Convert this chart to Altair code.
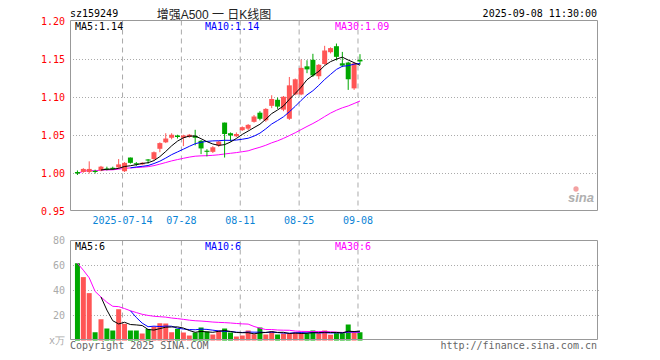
import altair as alt
import pandas as pd

# ---- data (49 trading days from 2025-07-02) ----
opens = [1.002, 1.002, 1.002, 1.0035, 1.004, 1.0065, 1.0075, 1.008, 1.003, 1.021,
         1.0135, 1.012, 1.0185, 1.019, 1.0325, 1.041, 1.047, 1.050, 1.047, 1.048,
         1.0495, 1.043, 1.030, 1.0285, 1.037, 1.067, 1.053, 1.049, 1.057, 1.059,
         1.068, 1.080, 1.070, 1.089, 1.097, 1.084, 1.072, 1.104, 1.104, 1.141,
         1.1496, 1.128, 1.144, 1.1596, 1.1675, 1.145, 1.146, 1.112, 1.1495]
highs = [1.004, 1.007, 1.016, 1.005, 1.010, 1.009, 1.009, 1.019, 1.015, 1.021,
         1.015, 1.015, 1.019, 1.029, 1.041, 1.053, 1.053, 1.051, 1.051, 1.052,
         1.0575, 1.044, 1.032, 1.036, 1.043, 1.067, 1.054, 1.054, 1.062, 1.065,
         1.077, 1.082, 1.086, 1.103, 1.100, 1.102, 1.127, 1.125, 1.150, 1.149,
         1.1575, 1.144, 1.168, 1.166, 1.171, 1.160, 1.147, 1.146, 1.157]
lows = [0.998, 1.001, 1.000, 1.000, 1.003, 1.004, 1.005, 1.006, 1.002, 1.013,
        1.010, 1.011, 1.013, 1.018, 1.028, 1.040, 1.045, 1.046, 1.036, 1.047,
        1.037, 1.0255, 1.0225, 1.027, 1.035, 1.021, 1.042, 1.048, 1.056, 1.057,
        1.067, 1.070, 1.068, 1.086, 1.085, 1.082, 1.0705, 1.103, 1.103, 1.132,
        1.127, 1.124, 1.143, 1.158, 1.1487, 1.140, 1.110, 1.110, 1.143]
closes = [1.000, 1.006, 1.006, 1.002, 1.009, 1.005, 1.006, 1.012, 1.014, 1.014,
          1.012, 1.014, 1.017, 1.028, 1.040, 1.046, 1.051, 1.048, 1.050, 1.051,
          1.047, 1.033, 1.0285, 1.0345, 1.042, 1.052, 1.050, 1.052, 1.061, 1.064,
          1.075, 1.072, 1.085, 1.098, 1.088, 1.101, 1.116, 1.124, 1.139, 1.137,
          1.129, 1.143, 1.162, 1.165, 1.1535, 1.142, 1.124, 1.145, 1.1475]
volumes = [61.8, 50.7, 37.9, 6.6, 17.0, 9.6, 8.0, 25.0, 13.3, 8.0,
           8.0, 5.6, 9.2, 11.0, 13.8, 13.6, 6.6, 9.4, 6.4, 4.0,
           6.4, 10.4, 7.2, 4.8, 8.0, 9.6, 6.4, 3.2, 4.0, 8.0,
           5.0, 10.4, 4.8, 7.2, 4.8, 5.6, 5.6, 6.4, 5.6, 5.6,
           8.0, 5.8, 8.0, 4.6, 5.9, 5.9, 12.8, 6.6, 6.6]

date_idx = [8, 18, 28, 38, 48]
date_labels = ["2025-07-14", "07-28", "08-11", "08-25", "09-08"]
price_ticks = [0.95, 1.00, 1.05, 1.10, 1.15, 1.20]
price_tick_labels = ["0.95", "1.00", "1.05", "1.10", "1.15", "1.20"]
price_grid = [1.00, 1.05, 1.10, 1.15]
vol_ticks = [0, 20, 40, 60, 80]
vol_tick_labels = ["x万", "20", "40", "60", "80"]
vol_grid = [20, 40, 60]

df = pd.DataFrame({"i": list(range(len(closes))), "open": opens, "high": highs,
                   "low": lows, "close": closes, "vol": volumes})

# ---- styling ----
MONO = "DejaVu Sans Mono"
RED = "#ff5555"
GREEN = "#00a800"
W, H = 527, 320

XS = alt.Scale(domain=[-0.4167, 87.4167], nice=False, zero=False)
PY = alt.Scale(domain=[0.95, 1.20], range=[191.5, 1.5], nice=False, zero=False)
VY = alt.Scale(domain=[0, 80], range=[320.5, 220.5], nice=False, zero=False)
X = alt.X("i:Q", scale=XS, axis=None)
updown = alt.condition("datum.close >= datum.open", alt.value(RED), alt.value(GREEN))

base = alt.Chart(df)


def label(text, x, y, color, align="left", size=10, font=MONO, **kw):
    return alt.Chart(pd.DataFrame({"t": [text]})).mark_text(
        align=align, baseline="middle", color=color, fontSize=size, font=font, **kw
    ).encode(x=alt.value(x), y=alt.value(y), text="t:N")


def frame(y0, y1):
    return alt.Chart(pd.DataFrame({"a": [0]})).mark_rect(
        fill="white", fillOpacity=0, stroke="#999999", strokeWidth=1
    ).encode(x=alt.value(0.5), x2=alt.value(527.5), y=alt.value(y0), y2=alt.value(y1))


dates_df = pd.DataFrame({"i": date_idx, "lab": date_labels})

# ---- price panel ----
p_grid = alt.Chart(pd.DataFrame({"p": price_grid})).mark_rule(
    color="#aaaaaa", strokeDash=[1, 2], strokeWidth=1
).encode(y=alt.Y("p:Q", scale=PY, axis=None), x=alt.value(0), x2=alt.value(W))

p_vgrid = alt.Chart(dates_df).mark_rule(
    color="#aaaaaa", strokeDash=[5, 4], strokeWidth=1, xOffset=-2
).encode(x=X, y=alt.value(0.5), y2=alt.value(190.5))

wicks = base.mark_rule(strokeWidth=1).encode(
    x=X, y=alt.Y("low:Q", scale=PY, axis=None), y2="high:Q", color=updown)
bodies = base.mark_bar(size=5, minBandSize=1).encode(
    x=X, y=alt.Y("open:Q", scale=PY, axis=None), y2="close:Q", color=updown)


def ma_line(field, n, color, scale, start):
    ch = base.transform_window(ma=f"mean({field})", frame=[-(n - 1), 0],
                               sort=[alt.SortField("i")])
    if start > 0:
        ch = ch.transform_filter(f"datum.i >= {start}")
    return ch.mark_line(color=color, strokeWidth=1).encode(
        x=X, y=alt.Y("ma:Q", scale=scale, axis=None))


p_ma5 = ma_line("close", 5, "black", PY, 4)
p_ma10 = ma_line("close", 10, "#0000ff", PY, 9)
p_ma30 = ma_line("close", 30, "#ff00ff", PY, 0)

p_labels = alt.Chart(pd.DataFrame({"p": price_ticks, "t": price_tick_labels})).mark_text(
    align="right", baseline="middle", color="#ff0000", fontSize=10, font=MONO, dy=0.5
).encode(y=alt.Y("p:Q", scale=PY, axis=None), x=alt.value(-5), text="t:N")

d_labels = alt.Chart(dates_df).mark_text(
    align="center", baseline="middle", color="#0a84d6", fontSize=10, font=MONO, dx=-2
).encode(x=X, y=alt.value(201), text="lab:N")

price_layer = alt.layer(p_grid, p_vgrid, p_ma30, wicks, bodies, p_ma10, p_ma5,
                        p_labels, d_labels)

# ---- volume panel ----
v_grid = alt.Chart(pd.DataFrame({"v": vol_grid})).mark_rule(
    color="#aaaaaa", strokeDash=[1, 2], strokeWidth=1
).encode(y=alt.Y("v:Q", scale=VY, axis=None), x=alt.value(0), x2=alt.value(W + 3))

v_vgrid = alt.Chart(dates_df).mark_rule(
    color="#aaaaaa", strokeDash=[5, 4], strokeWidth=1, xOffset=-2
).encode(x=X, y=alt.value(220.5), y2=alt.value(319.5))

v_bars = base.mark_bar(size=5).encode(
    x=X, y=alt.Y("vol:Q", scale=VY, axis=None), color=updown)

v_ma5 = ma_line("vol", 5, "black", VY, 4)
v_ma10 = ma_line("vol", 10, "#0000ff", VY, 9)
v_ma30 = ma_line("vol", 30, "#ff00ff", VY, 0)

v_labels = alt.Chart(pd.DataFrame({"v": vol_ticks, "t": vol_tick_labels})).mark_text(
    align="right", baseline="middle", color="#aaaaaa", fontSize=10, font=MONO, dy=0.5
).encode(y=alt.Y("v:Q", scale=VY, axis=None), x=alt.value(-5), text="t:N")

vol_layer = alt.layer(v_grid, v_vgrid, v_bars, v_ma30, v_ma10, v_ma5, v_labels)

# ---- annotations ----
eye = alt.Chart(pd.DataFrame({"a": [0]})).mark_circle(
    color="#f08a8a", size=28, opacity=0.8
).encode(x=alt.value(506), y=alt.value(169))

annotations = [
    frame(0.5, 190.5), frame(220.5, 319.5),
    label("sz159249", 0, -6, "#000000"),
    label("增强A500 一 日K线图", 144, -5, "#222222", align="center", size=12,
          font="Liberation Sans, Noto Sans CJK SC"),
    label("2025-09-08 11:30:00", 527, -6, "#000000", align="right"),
    label("MA5:1.14", 5, 7, "#000000"),
    label("MA10:1.14", 135, 7, "#0000ff"),
    label("MA30:1.09", 265, 7, "#ff00ff"),
    label("MA5:6", 5, 227, "#000000"),
    label("MA10:6", 135, 227, "#0000ff"),
    label("MA30:6", 265, 227, "#ff00ff"),
    label("Copyright 2025 SINA.COM", 0, 326, "#666666"),
    label("http://finance.sina.com.cn", 527, 326, "#666666", align="right"),
    eye,
    label("sina", 511, 178, "#b0b0b0", align="center", size=13,
          font="Liberation Sans", fontStyle="italic", fontWeight="bold"),
]

chart = alt.layer(price_layer, vol_layer, *annotations).resolve_scale(
    y="independent"
).properties(
    width=W, height=H, autosize="none",
    padding={"left": 62, "top": 12, "right": 55, "bottom": 12},
    background="white",
).configure_view(stroke=None)

chart.save("out.html", embed_options={"renderer": "svg", "actions": False})
